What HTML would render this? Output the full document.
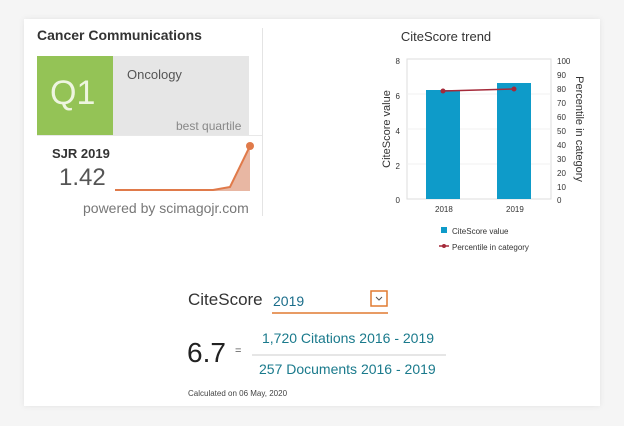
<!DOCTYPE html>
<html><head><style>
body{margin:0;width:624px;height:426px;background:#f5f5f5;font-family:"Liberation Sans",sans-serif;position:relative;overflow:hidden}
.card{position:absolute;left:24px;top:19px;width:576px;height:387px;background:#fff;box-shadow:0 0 6px rgba(0,0,0,0.08)}
.a{position:absolute;white-space:nowrap}
</style></head><body>
<div class="card"></div>
<div class="a" style="left:37px;top:27px;font-size:14px;font-weight:bold;color:#333">Cancer Communications</div>
<div class="a" style="left:262px;top:28px;width:1px;height:188px;background:#e4e4e4"></div>
<div class="a" style="left:37px;top:56px;width:212px;height:79px;background:#e6e6e6"></div>
<div class="a" style="left:37px;top:56px;width:76px;height:79px;background:#94c356"></div>
<div class="a" style="left:50px;top:74px;font-size:34px;color:#eef5e0">Q1</div>
<div class="a" style="left:127px;top:67px;font-size:13px;color:#555">Oncology</div>
<div class="a" style="left:176px;top:119px;font-size:12px;color:#888">best quartile</div>
<div class="a" style="left:37px;top:135px;width:225px;height:1px;background:#e8e8e8"></div>
<div class="a" style="left:52px;top:146px;font-size:13px;font-weight:bold;color:#333">SJR 2019</div>
<div class="a" style="left:59px;top:164px;font-size:24px;color:#555">1.42</div>
<svg class="a" style="left:0;top:0" width="624" height="426">
<path d="M115 190 L213 190 L230 187 L250 146 L250 191 L115 191Z" fill="#e8b7a3"/>
<polyline points="115,190 213,190 230,187 250,146" fill="none" stroke="#e07a4a" stroke-width="2"/>
<circle cx="250" cy="146" r="4" fill="#e07a4a"/>
<text x="446" y="41" font-size="13" fill="#333" text-anchor="middle" font-family="Liberation Sans">CiteScore trend</text>
<rect x="407" y="59" width="144" height="140" fill="none" stroke="#ddd"/>
<line x1="407" y1="94" x2="551" y2="94" stroke="#f0f0f0"/>
<line x1="407" y1="129" x2="551" y2="129" stroke="#f0f0f0"/>
<line x1="407" y1="164" x2="551" y2="164" stroke="#f0f0f0"/>
<rect x="426" y="90" width="34" height="109" fill="#0e9bc9"/>
<rect x="497" y="83" width="34" height="116" fill="#0e9bc9"/>
<polyline points="443,91 514,89" stroke="#a52a3a" stroke-width="1.5" fill="none"/>
<circle cx="443" cy="91" r="2.5" fill="#a52a3a"/><circle cx="514" cy="89" r="2.5" fill="#a52a3a"/>
<g font-size="8" fill="#333" font-family="Liberation Sans" text-anchor="end">
<text x="400" y="64">8</text><text x="400" y="99">6</text><text x="400" y="134">4</text><text x="400" y="169">2</text><text x="400" y="203">0</text>
</g>
<g font-size="8" fill="#333" font-family="Liberation Sans">
<text x="557" y="64">100</text><text x="557" y="78">90</text><text x="557" y="92">80</text><text x="557" y="106">70</text><text x="557" y="120">60</text><text x="557" y="134">50</text><text x="557" y="148">40</text><text x="557" y="162">30</text><text x="557" y="176">20</text><text x="557" y="190">10</text><text x="557" y="203">0</text>
<text x="435" y="212">2018</text><text x="506" y="212">2019</text>
<text x="452" y="234">CiteScore value</text><text x="452" y="250">Percentile in category</text>
</g>
<text transform="translate(390,129) rotate(-90)" font-size="11" fill="#333" text-anchor="middle" font-family="Liberation Sans">CiteScore value</text>
<text transform="translate(576,129) rotate(90)" font-size="11" fill="#333" text-anchor="middle" font-family="Liberation Sans">Percentile in category</text>
<rect x="441" y="227" width="6" height="6" fill="#0e9bc9"/>
<line x1="439" y1="246" x2="449" y2="246" stroke="#a52a3a" stroke-width="1.5"/><circle cx="444" cy="246" r="2" fill="#a52a3a"/>
<line x1="272" y1="313" x2="388" y2="313" stroke="#e07a30" stroke-width="1.5"/>
<rect x="371" y="291" width="16" height="15" fill="none" stroke="#e07a30" stroke-width="1.5"/>
<polyline points="376,297 379,300 382,297" fill="none" stroke="#555" stroke-width="1"/>
<line x1="252" y1="355" x2="446" y2="355" stroke="#ccc"/>
</svg>
<div class="a" style="left:188px;top:290px;font-size:17px;color:#333">CiteScore</div>
<div class="a" style="left:273px;top:293px;font-size:14px;color:#1a6d8a">2019</div>
<div class="a" style="left:187px;top:337px;font-size:28px;color:#222">6.7</div>
<div class="a" style="left:235px;top:345px;font-size:11px;color:#555">=</div>
<div class="a" style="left:262px;top:330px;font-size:14px;color:#1a7a8c">1,720 Citations 2016 - 2019</div>
<div class="a" style="left:259px;top:361px;font-size:14px;color:#1a7a8c">257 Documents 2016 - 2019</div>
<div class="a" style="left:188px;top:389px;font-size:8px;color:#444">Calculated on 06 May, 2020</div>
<div class="a" style="left:83px;top:200px;font-size:14px;color:#777">powered by scimagojr.com</div>
</body></html>
